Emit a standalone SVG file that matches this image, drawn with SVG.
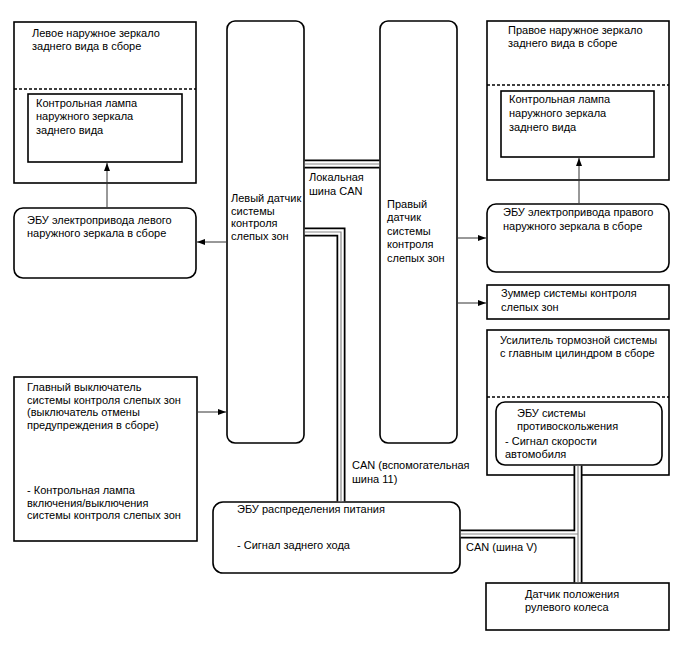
<svg xmlns="http://www.w3.org/2000/svg" width="688" height="658" viewBox="0 0 688 658">
<defs>
<marker id="arr" markerWidth="8" markerHeight="6" refX="8" refY="3" orient="auto" markerUnits="userSpaceOnUse">
<path d="M0,0 L8,3 L0,6 Z" fill="#000"/>
</marker>
<style>
.box{fill:#fff;stroke:#000;stroke-width:1.6}
.dash{stroke:#000;stroke-width:1.4;stroke-dasharray:3,2;fill:none}
.t{font-family:"Liberation Sans",Arial,sans-serif;font-size:11px;fill:#000}
.ar{stroke:#333;stroke-width:1;fill:none;marker-end:url(#arr)}
.cb{stroke:#000;stroke-width:9;fill:none;stroke-linejoin:miter}
.cw{stroke:#fff;stroke-width:5.5;fill:none;stroke-linejoin:miter}
.cg{stroke:#888;stroke-width:1.2;fill:none;stroke-linejoin:miter}
</style>
</defs>
<rect width="688" height="658" fill="#fff"/>

<g id="left-mirror">
<rect class="box" x="14" y="22" width="182" height="161"/>
<line class="dash" x1="14" y1="89" x2="196" y2="89"/>
<text class="t" x="32" y="37">Левое наружное зеркало</text>
<text class="t" x="32" y="50">заднего вида в сборе</text>
</g>
<g id="left-mirror-lamp">
<rect class="box" x="28" y="94" width="154" height="68"/>
<text class="t" x="36" y="107">Контрольная лампа</text>
<text class="t" x="36" y="120">наружного зеркала</text>
<text class="t" x="36" y="134">заднего вида</text>
</g>

<g id="left-mirror-ecu">
<rect class="box" x="14" y="208" width="182" height="70" rx="9"/>
<text class="t" x="27" y="224">ЭБУ электропривода левого</text>
<text class="t" x="27" y="237">наружного зеркала в сборе</text>
</g>

<g id="left-sensor">
<rect class="box" x="227" y="21" width="77" height="422" rx="8"/>
<text class="t" x="231" y="202">Левый датчик</text>
<text class="t" x="231" y="215">системы</text>
<text class="t" x="231" y="227">контроля</text>
<text class="t" x="231" y="240">слепых зон</text>
</g>

<g id="right-sensor">
<rect class="box" x="380" y="21" width="77" height="422" rx="8"/>
<text class="t" x="387" y="208">Правый</text>
<text class="t" x="387" y="221">датчик</text>
<text class="t" x="387" y="235">системы</text>
<text class="t" x="387" y="248">контроля</text>
<text class="t" x="387" y="262">слепых зон</text>
</g>

<g id="main-switch">
<rect class="box" x="14" y="377" width="183" height="164"/>
<text class="t" x="27" y="391">Главный выключатель</text>
<text class="t" x="27" y="404">системы контроля слепых зон</text>
<text class="t" x="27" y="416">(выключатель отмены</text>
<text class="t" x="27" y="429">предупреждения в сборе)</text>
<text class="t" x="27" y="494">- Контрольная лампа</text>
<text class="t" x="27" y="507">включения/выключения</text>
<text class="t" x="27" y="519">системы контроля слепых зон</text>
</g>

<g id="pdu-ecu">
<rect class="box" x="213" y="502" width="247" height="71" rx="10"/>
<text class="t" x="237" y="513">ЭБУ распределения питания</text>
<text class="t" x="237" y="549">- Сигнал заднего хода</text>
</g>

<g id="right-mirror">
<rect class="box" x="487" y="21" width="182" height="159"/>
<line class="dash" x1="487" y1="85" x2="669" y2="85"/>
<text class="t" x="508" y="34">Правое наружное зеркало</text>
<text class="t" x="508" y="47">заднего вида в сборе</text>
</g>
<g id="right-mirror-lamp">
<rect class="box" x="501" y="91" width="153" height="66"/>
<text class="t" x="509" y="103">Контрольная лампа</text>
<text class="t" x="509" y="117">наружного зеркала</text>
<text class="t" x="509" y="131">заднего вида</text>
</g>

<g id="right-mirror-ecu">
<rect class="box" x="487" y="204" width="182" height="68" rx="9"/>
<text class="t" x="503" y="216">ЭБУ электропривода правого</text>
<text class="t" x="503" y="230">наружного зеркала в сборе</text>
</g>

<g id="buzzer">
<rect class="box" x="487" y="285" width="182" height="34"/>
<text class="t" x="501" y="297">Зуммер системы контроля</text>
<text class="t" x="501" y="311">слепых зон</text>
</g>

<g id="brake-booster">
<rect class="box" x="487" y="330" width="182" height="145"/>
<line class="dash" x1="487" y1="397" x2="669" y2="397"/>
<text class="t" x="500" y="344">Усилитель тормозной системы</text>
<text class="t" x="500" y="357">с главным цилиндром в сборе</text>
</g>
<g id="abs-ecu">
<rect class="box" x="496" y="402" width="166" height="63" rx="9"/>
<text class="t" x="517" y="417">ЭБУ системы</text>
<text class="t" x="517" y="430">противоскольжения</text>
<text class="t" x="505" y="445">- Сигнал скорости</text>
<text class="t" x="505" y="458">автомобиля</text>
</g>

<g id="steering-sensor">
<rect class="box" x="486" y="583" width="183" height="47"/>
<text class="t" x="525" y="598">Датчик положения</text>
<text class="t" x="525" y="611">рулевого колеса</text>
</g>

<g id="connectors">
<path class="cb" d="M304.8,164 H379.2"/>
<path class="cb" d="M304.8,232 H341 V501.2"/>
<path class="cb" d="M578,465.8 V582.2"/>
<path class="cb" d="M460.8,534 H578"/>
<path class="cw" d="M304.8,164 H379.2"/>
<path class="cw" d="M304.8,232 H341 V501.2"/>
<path class="cw" d="M578,465.8 V582.2"/>
<path class="cw" d="M460.8,534 H578"/>
<path class="cg" d="M304.8,164 H379.2"/>
<path class="cg" d="M304.8,232 H341 V501.2"/>
<path class="cg" d="M578,465.8 V582.2"/>
<path class="cg" d="M460.8,534 H578"/>
<line class="ar" x1="107" y1="207" x2="107" y2="163"/>
<line class="ar" x1="226" y1="242" x2="197" y2="242"/>
<line class="ar" x1="579" y1="203" x2="579" y2="158"/>
<line class="ar" x1="458" y1="238" x2="486" y2="238"/>
<line class="ar" x1="458" y1="303" x2="486" y2="303"/>
<line class="ar" x1="198" y1="412" x2="226" y2="412"/>
<text class="t" x="309" y="181">Локальная</text>
<text class="t" x="309" y="195">шина CAN</text>
<text class="t" x="352" y="469">CAN (вспомогательная</text>
<text class="t" x="352" y="483">шина 11)</text>
<text class="t" x="466" y="551">CAN (шина V)</text>
</g>
</svg>
